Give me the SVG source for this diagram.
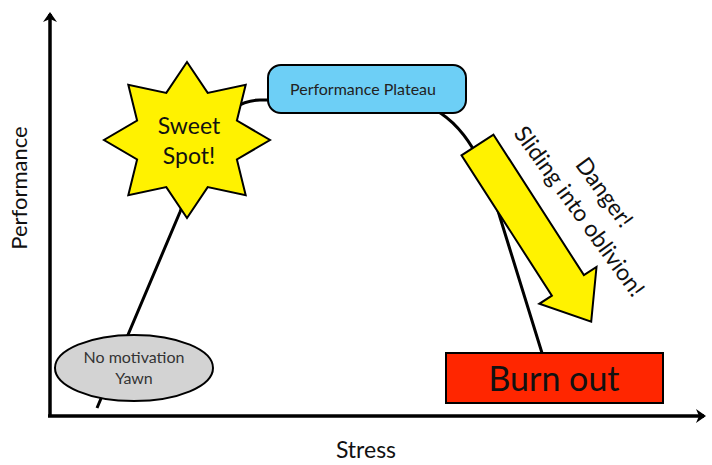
<svg xmlns="http://www.w3.org/2000/svg" width="712" height="465" viewBox="0 0 712 465">
  <style>
    text { font-family: "Lato", "Open Sans", sans-serif; fill: #111; }
    .shape { stroke: #000; stroke-width: 2; stroke-linejoin: miter; }
    .axis { stroke: #000; stroke-width: 3.5; fill: none; }
    .curve { stroke: #000; stroke-width: 3; fill: none; }
  </style>
  <defs>
    <marker id="axisHead" markerUnits="userSpaceOnUse" markerWidth="16" markerHeight="16" refX="8" refY="7" orient="auto" viewBox="0 0 16 14">
      <path d="M0,0 L10,7 L0,14 L3,7 Z" fill="#000"/>
    </marker>
  </defs>

  <rect width="712" height="465" fill="#fff"/>

  <!-- connectors: the performance curve and the axes -->
  <g id="connectors">
    <path class="curve" d="M97,408 L180,212 C200,160 215,100 260,100 L400,100 C440,102 470,130 490,185 L542,353"/>
    <path class="axis" d="M50,416 L50,14" marker-end="url(#axisHead)"/>
    <path class="axis" d="M48,416 L704,416" marker-end="url(#axisHead)"/>
  </g>

  <!-- axis titles -->
  <g id="axis-labels">
    <text x="0" y="0" font-size="22" text-anchor="middle" transform="translate(27,188) rotate(-90)">Performance</text>
    <text x="366" y="458" font-size="23" text-anchor="middle">Stress</text>
  </g>

  <g id="no-motivation">
    <ellipse class="shape" cx="134" cy="368" rx="79" ry="33" fill="#d3d3d3"/>
    <text x="134" y="363" font-size="16" text-anchor="middle" style="fill:#333">No motivation</text>
    <text x="134" y="384" font-size="16" text-anchor="middle" style="fill:#333">Yawn</text>
  </g>

  <g id="sweet-spot">
    <polygon class="shape" fill="#fff200" points="187,62 207.7,92.9 245.7,84.8 236.9,120.5 270,140 236.9,159.5 245.7,195.2 207.7,187.1 187,218 166.3,187.1 128.3,195.2 137.1,159.5 104,140 137.1,120.5 128.3,84.8 166.3,92.9"/>
    <text x="189" y="134" font-size="23" text-anchor="middle">Sweet</text>
    <text x="189" y="164" font-size="23" text-anchor="middle">Spot!</text>
  </g>

  <g id="plateau">
    <rect class="shape" x="268" y="65" width="198" height="48" rx="13" ry="13" fill="#6dcff6"/>
    <text x="363" y="95" font-size="16" text-anchor="middle" style="fill:#222">Performance Plateau</text>
  </g>

  <g id="danger">
    <polygon class="shape" fill="#fff200" points="493.5,134.7 583.9,275.1 596.5,267 591.2,321.6 539.3,303.8 551.9,295.7 461.5,155.3"/>
    <text x="0" y="0" font-size="23" text-anchor="middle" transform="translate(598,197) rotate(54)">Danger!</text>
    <text x="0" y="0" font-size="23" text-anchor="middle" transform="translate(573,216) rotate(54)">Sliding into oblivion!</text>
  </g>

  <g id="burn-out">
    <rect class="shape" x="446" y="353" width="217" height="50" fill="#ff2600"/>
    <text x="554" y="391" font-size="34" text-anchor="middle">Burn out</text>
  </g>
</svg>
